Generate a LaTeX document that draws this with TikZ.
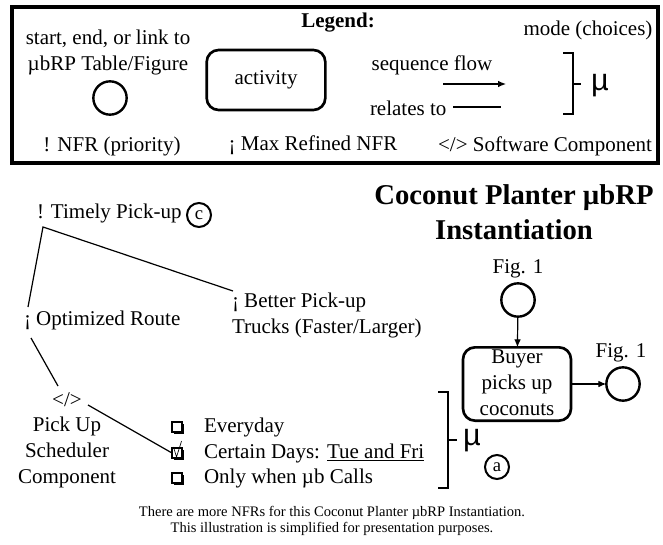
\documentclass[tikz,border=0pt]{standalone}
\usepackage{fontspec}
\setmainfont{Liberation Serif}
\newfontfamily\musans{Liberation Sans}
\usetikzlibrary{arrows.meta,shadows}
\begin{document}
\begin{tikzpicture}[x=0.75pt,y=-0.75pt,
  every node/.style={inner sep=0pt,outer sep=0pt},
  txt/.style={font=\fontsize{15.75}{19.5}\selectfont,align=center},
  small/.style={font=\fontsize{10.9}{12.5}\selectfont,align=center},
  ttl/.style={font=\fontsize{21.5}{26.5}\selectfont\bfseries,align=center},
  ring/.style={circle,draw,line width=1.8pt,minimum size=25pt},
  lettercirc/.style={circle,draw,line width=1.5pt,minimum size=18pt,font=\fontsize{14}{16}\selectfont},
  actbox/.style={draw,rounded corners=9pt,line width=2pt},
  mu/.style={font=\musans\fontsize{23}{26}\selectfont},
  cbox/.style={rectangle,draw,line width=0.8pt,fill=white,minimum size=7.5pt,
    general shadow={fill=black,shadow xshift=1.3pt,shadow yshift=-1.3pt}},
  conn/.style={line width=0.9pt},
  flow/.style={line width=0.9pt,-{Latex[length=6pt,width=5pt]}},
  brk/.style={line width=0.9pt}
]
\path[use as bounding box] (0,0) rectangle (663,545);

% ---------- Legend ----------
\draw[line width=2.3pt] (12,7) rectangle (658,163);
\node[txt,font=\fontsize{15.75}{19}\selectfont\bfseries] (legend) at (338,23) {Legend:};
\node[txt] (startlbl) at (108,52) {start, end, or link to\\µbRP Table/Figure};
\node[ring] (lcirc) at (110,98) {};
\node[actbox,minimum width=89pt,minimum height=45pt,txt] (lact) at (266,80) {activity};
\node[txt] (seqlbl) at (432,65) {sequence flow};
\coordinate (seqA) at (443,84);
\coordinate (seqB) at (506,84);
\draw[flow] (seqA) -- (seqB);
\node[txt,anchor=west] (rellbl) at (370,108) {relates to};
\coordinate (relA) at (453,107);
\coordinate (relB) at (501,107);
\draw[conn] (relA) -- (relB);
\coordinate (lbT) at (563,53);
\coordinate (lbB) at (563,114);
\coordinate (lbM) at (581,84);
\draw[brk] (lbT) -| (573,114) -- (lbB);
\draw[brk] (573,84) -- (lbM);
\node[mu] (lmu) at (600,86) {µ};
\node[txt] (modelbl) at (588,30) {mode (choices)};
\node[txt] (nfrlbl) at (112,146) {! NFR (priority)};
\node[txt] (maxlbl) at (313,145) {¡ Max Refined NFR};
\node[txt] (swlbl) at (545,146) {</> Software Component};

% ---------- Title ----------
\node[ttl] (title) at (514,212) {Coconut Planter µbRP\\Instantiation};

% ---------- NFR tree ----------
\node[txt,anchor=west] (timely) at (37,213) {! Timely Pick-up};
\node[lettercirc] (cc) at (199,215) {c};
\node[txt,anchor=west] (optim) at (24,320) {¡ Optimized Route};
\node[txt,anchor=north west,align=left] (better) at (232,293) {¡ Better Pick-up\\Trucks (Faster/Larger)};
\node[txt] (swc) at (67,400) {</>};
\node[txt] (sched) at (67,452) {Pick Up\\Scheduler\\Component};

\coordinate (t0) at (43,227);
\coordinate (o0) at (28,307);
\coordinate (b0) at (233,291);
\coordinate (o1) at (31,338);
\coordinate (s0) at (58,386);
\coordinate (s1) at (88,405);
\draw[conn] (o0) -- (t0) -- (b0);
\draw[conn] (o1) -- (s0);

% ---------- Choices ----------
\node[cbox] (cb1) at (177,427) {};
\node[cbox] (cb2) at (177,453) {};
\node[cbox] (cb3) at (177,478) {};
\draw[line width=0.5pt] (173.5,447) -- (176.5,457) -- (180,446) -- (181.5,441);
\draw[conn] (s1) -- (cb2.west);
\node[txt,anchor=west] (c1) at (204,427) {Everyday};
\node[txt,anchor=west] (c2) at (204,453) {Certain Days: \underline{Tue and Fri}};
\node[txt,anchor=west] (c3) at (204,478) {Only when µb Calls};

\coordinate (bT) at (438,392);
\coordinate (bB) at (438,488);
\coordinate (bM) at (457,440);
\draw[brk] (bT) -| (448,488) -- (bB);
\draw[brk] (448,440) -- (bM);
\node[mu] (mmu) at (472,441) {µ};
\node[lettercirc] (ca) at (497,467) {a};

% ---------- Process ----------
\node[txt] (fig1a) at (518,269) {Fig. 1};
\node[ring] (pc1) at (518,300) {};
\node[actbox,minimum width=81pt,minimum height=55pt] (buyer) at (517,384) {};
\node[txt] (buyertxt) at (517,383) {Buyer\\picks up\\coconuts};
\node[ring] (pc2) at (623,384) {};
\node[txt] (fig1b) at (621,353) {Fig. 1};
\draw[flow] (pc1) -- (buyer);
\draw[flow] (buyer.east |- pc2) -- (pc2);

% ---------- Footer ----------
\node[small] (foot) at (332,521) {There are more NFRs for this Coconut Planter µbRP Instantiation.\\This illustration is simplified for presentation purposes.};
\end{tikzpicture}
\end{document}
